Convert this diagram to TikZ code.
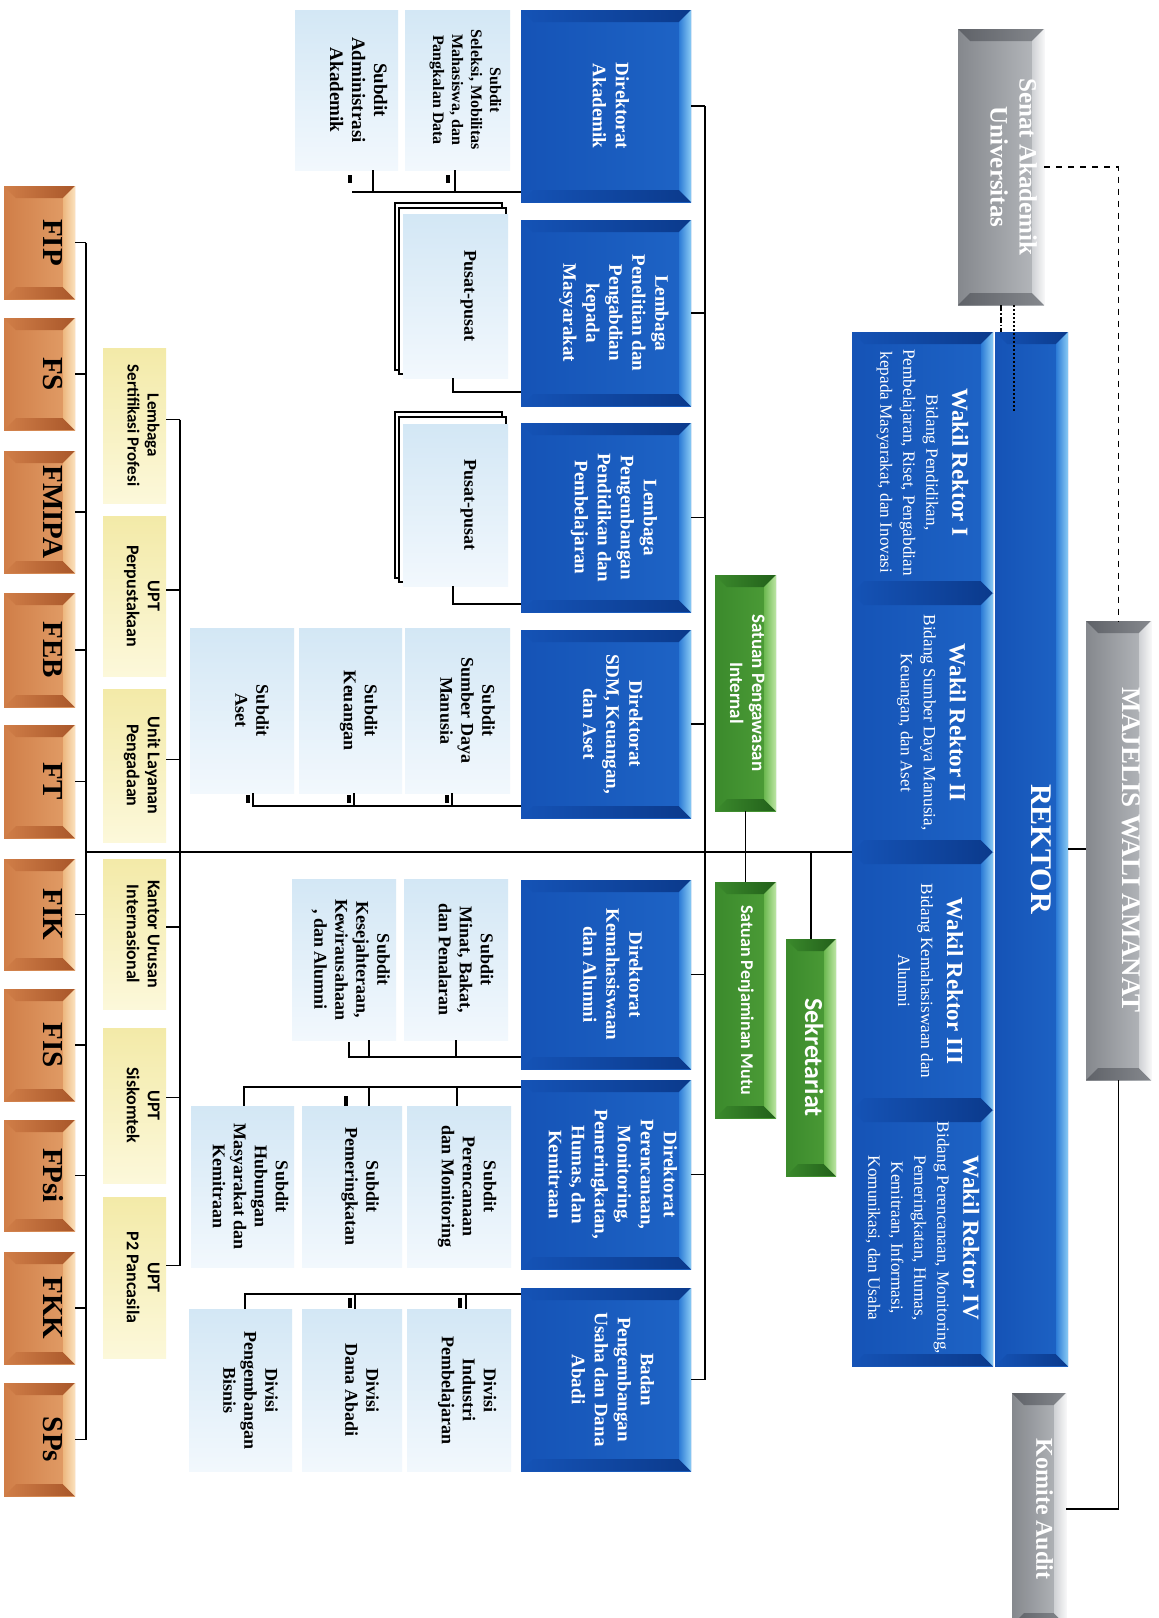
\documentclass[tikz,border=0pt]{standalone}
\usepackage{fontspec}
\setmainfont{Liberation Serif}
\newfontfamily\carl{Carlito}
\usepackage{graphicx}
\newlength\px
\setlength\px{0.5pt}
\newcommand\rtx[1]{\rotatebox{-90}{\begin{tabular}{@{}c@{}}#1\end{tabular}}}
\newcommand\shf[2]{\hspace*{#1\px}\rtx{#2}}
\newcommand\wrtext[2]{\rotatebox{-90}{\parbox{126pt}{\centering\fontsize{11.5}{13}\selectfont\bfseries #1\par\vspace{1.5pt}\fontsize{8.6}{11.5}\selectfont\mdseries #2\par}}}
\newcommand\bxn[7]{\node[#2,minimum width={(#5-#3)*0.5pt},minimum height={(#6-#4)*0.5pt}] (#1) at ({(#3+#5)/2},{(#4+#6)/2}) {#7};}
\newcommand\dropline[3]{\coordinate (tmpd) at (#1,#2); \draw[conn] (tmpd) -- (tmpd |- #3);}
\newcommand\tickmark[3]{\draw[tickline] (#1,#2) -- (#1,#3);}

\definecolor{cBlue}{HTML}{1553B6}
\definecolor{cBlueR}{HTML}{1E64C6}
\definecolor{cBlueD}{HTML}{0B3A8C}
\definecolor{cBlueL1}{HTML}{2C7BD6}
\definecolor{cBlueL2}{HTML}{8ACBF5}
\definecolor{cGray}{HTML}{85888D}
\definecolor{cGrayR}{HTML}{B9BCC0}
\definecolor{cGrayD}{HTML}{5F6268}
\definecolor{cGrayL1}{HTML}{CFD1D4}
\definecolor{cGrayL2}{HTML}{F6F6F7}
\definecolor{cGreen}{HTML}{3B8A2C}
\definecolor{cGreenR}{HTML}{4E9E38}
\definecolor{cGreenD}{HTML}{22601A}
\definecolor{cGreenL1}{HTML}{6CB850}
\definecolor{cGreenL2}{HTML}{BDE6A4}
\definecolor{cOr}{HTML}{D07E48}
\definecolor{cOrR}{HTML}{E3A06A}
\definecolor{cOrD}{HTML}{A9572A}
\definecolor{cOrL1}{HTML}{EDB77F}
\definecolor{cOrL2}{HTML}{FBE2BE}
\definecolor{cSubT}{HTML}{D3E7F5}
\definecolor{cSubB}{HTML}{F2F8FD}
\definecolor{cUpT}{HTML}{F3EAA8}
\definecolor{cUpB}{HTML}{FCF8DA}

\tikzset{
 conn/.style={line width=0.9pt, black},
 tickline/.style={line width=1.8pt, black},
 boxbase/.style={rectangle, inner sep=0pt, outer sep=0pt, draw=none},
 bev/.style n args={6}{left color=#1, right color=#6, path picture={
   \shade[left color=#2, right color=#3] (path picture bounding box.north west) -- (path picture bounding box.north east) -- ([shift={(-6pt,-6pt)}]path picture bounding box.north east) -- ([shift={(6pt,-6pt)}]path picture bounding box.north west) -- cycle;
   \shade[left color=#2, right color=#3] (path picture bounding box.south west) -- (path picture bounding box.south east) -- ([shift={(-6pt,6pt)}]path picture bounding box.south east) -- ([shift={(6pt,6pt)}]path picture bounding box.south west) -- cycle;
   \shade[left color=#4, right color=#5] (path picture bounding box.north east) -- (path picture bounding box.south east) -- ([shift={(-6pt,6pt)}]path picture bounding box.south east) -- ([shift={(-6pt,-6pt)}]path picture bounding box.north east) -- cycle;
 }},
 bluebox/.style={boxbase, bev={cBlue}{cBlue}{cBlueD}{cBlueL1}{cBlueL2}{cBlueR}, text=white, font=\fontsize{9.5}{11.5}\selectfont\bfseries},
 graybox/.style={boxbase, bev={cGray}{cGrayD}{cGray}{cGrayL1}{cGrayL2}{cGrayR}, text=white},
 greenbox/.style={boxbase, bev={cGreen}{cGreen}{cGreenD}{cGreenL1}{cGreenL2}{cGreenR}, text=white, font=\carl\fontsize{9.5}{11}\selectfont\bfseries},
 facbox/.style={boxbase, bev={cOr}{cOr}{cOrD}{cOrL1}{cOrL2}{cOrR}, text=black, font=\fontsize{14.5}{16}\selectfont\bfseries},
 subbox/.style={boxbase, top color=cSubT, bottom color=cSubB, text=black, font=\fontsize{9}{10.5}\selectfont\bfseries},
 uptbox/.style={boxbase, top color=cUpT, bottom color=cUpB, text=black, font=\carl\fontsize{9}{10.5}\selectfont\bfseries},
 layer/.style={line width=0.8pt, draw=black, fill=white}
}

\begin{document}
\begin{tikzpicture}[x=0.5pt,y=-0.5pt]
\useasboundingbox (0,0) rectangle (1159,1618);
\fill[white] (0,0) rectangle (1159,1618);

% ---------- top governance ----------
\bxn{senat}{graybox,font=\fontsize{12.5}{14.5}\selectfont\bfseries}{958}{29}{1044}{305}{\shf{20}{Senat Akademik\\Universitas}}
\bxn{majelis}{graybox,font=\fontsize{13.5}{15}\selectfont\bfseries}{1086}{621}{1151}{1080}{\shf{20}{MAJELIS WALI AMANAT}}
\bxn{komite}{graybox,font=\fontsize{12}{14}\selectfont\bfseries}{1012}{1393}{1066}{1625}{\shf{6}{Komite Audit}}

\bxn{rektor}{bluebox,font=\fontsize{15}{17}\selectfont\bfseries}{995}{332}{1068}{1366}{\shf{14}{REKTOR}}
\bxn{wr1}{bluebox}{852}{332}{993}{593}{\wrtext{Wakil Rektor I}{Bidang Pendidikan,\\Pembelajaran, Riset, Pengabdian\\kepada Masyarakat, dan Inovasi}}
\bxn{wr2}{bluebox}{852}{593}{993}{852}{\hspace*{18\px}\wrtext{Wakil Rektor II}{Bidang Sumber Daya Manusia,\\Keuangan, dan Aset}}
\bxn{wr3}{bluebox}{852}{852}{993}{1110}{\hspace*{16\px}\wrtext{Wakil Rektor III}{Bidang Kemahasiswaan dan\\Alumni}}
\bxn{wr4}{bluebox}{852}{1110}{993}{1366}{\wrtext{Wakil Rektor IV}{Bidang Perencanaan, Monitoring,\\Pemeringkatan, Humas,\\Kemitraan, Informasi,\\Komunikasi, dan Usaha}}

% ---------- green units ----------
\bxn{spi}{greenbox}{715}{575}{776}{811}{\rtx{Satuan Pengawasan\\Internal}}
\bxn{spm}{greenbox,font=\carl\fontsize{9}{11}\selectfont\bfseries}{715}{882}{776}{1118}{\rtx{Satuan Penjaminan Mutu}}
\bxn{sekr}{greenbox,font=\carl\fontsize{13}{15}\selectfont\bfseries}{786}{939}{836}{1176}{\rtx{Sekretariat}}

% ---------- directorates ----------
\bxn{dirak}{bluebox}{521}{10}{691}{202}{\shf{6}{Direktorat\\Akademik}}
\bxn{lppm}{bluebox}{521}{220}{691}{406}{\shf{16}{Lembaga\\Penelitian dan\\Pengabdian\\kepada\\Masyarakat}}
\bxn{lppp}{bluebox}{521}{423}{691}{612}{\shf{16}{Lembaga\\Pengembangan\\Pendidikan dan\\Pembelajaran}}
\bxn{dirsdm}{bluebox}{521}{630}{691}{818}{\shf{10}{Direktorat\\SDM, Keuangan,\\dan Aset}}
\bxn{dirkem}{bluebox}{521}{880}{691}{1069}{\shf{10}{Direktorat\\Kemahasiswaan\\dan Alumni}}
\bxn{dirpr}{bluebox}{521}{1080}{691}{1269}{\shf{10}{Direktorat\\Perencanaan,\\Monitoring,\\Pemeringkatan,\\Humas, dan\\Kemitraan}}
\bxn{badan}{bluebox}{521}{1288}{691}{1471}{\shf{10}{Badan\\Pengembangan\\Usaha dan Dana\\Abadi}}

% ---------- subdits ----------
\bxn{sa1}{subbox,font=\fontsize{8}{9.5}\selectfont\bfseries}{405}{10}{510}{170}{\shf{16}{Subdit\\Seleksi, Mobilitas\\Mahasiswa, dan\\Pangkalan Data}}
\bxn{sa2}{subbox,font=\fontsize{9.5}{11}\selectfont\bfseries}{295}{10}{398}{170}{\shf{20}{Subdit\\Administrasi\\Akademik}}

\draw[layer] (395,203) rectangle (502,370);
\draw[layer] (399,208) rectangle (506,374);
\bxn{pus1}{subbox}{403}{214}{508}{378}{\shf{26}{Pusat-pusat}}
\draw[layer] (395,412) rectangle (502,578);
\draw[layer] (399,417) rectangle (506,582);
\bxn{pus2}{subbox}{403}{424}{508}{586}{\shf{26}{Pusat-pusat}}

\bxn{ss1}{subbox}{405}{628}{510}{793}{\shf{16}{Subdit\\Sumber Daya\\Manusia}}
\bxn{ss2}{subbox}{299}{628}{402}{793}{\shf{16}{Subdit\\Keuangan}}
\bxn{ss3}{subbox}{190}{628}{294}{793}{\shf{16}{Subdit\\Aset}}

\bxn{sk1}{subbox}{404}{879}{508}{1040}{\shf{16}{Subdit\\Minat, Bakat,\\dan Penalaran}}
\bxn{sk2}{subbox}{292}{879}{396}{1040}{\shf{12}{Subdit\\Kesejahteraan,\\Kewirausahaan\\, dan Alumni}}

\bxn{sp1}{subbox}{407}{1106}{511}{1267}{\shf{16}{Subdit\\Perencanaan\\dan Monitoring}}
\bxn{sp2}{subbox}{302}{1106}{402}{1267}{\shf{16}{Subdit\\Pemeringkatan}}
\bxn{sp3}{subbox}{191}{1106}{294}{1267}{\shf{12}{Subdit\\Hubungan\\Masyarakat dan\\Kemitraan}}

\bxn{dv1}{subbox}{407}{1309}{511}{1471}{\shf{16}{Divisi\\Industri\\Pembelajaran}}
\bxn{dv2}{subbox}{302}{1309}{402}{1471}{\shf{16}{Divisi\\Dana Abadi}}
\bxn{dv3}{subbox}{189}{1309}{292}{1471}{\shf{16}{Divisi\\Pengembangan\\Bisnis}}

% ---------- UPT column ----------
\bxn{u1}{uptbox,font=\carl\fontsize{8.5}{10}\selectfont\bfseries}{103}{348}{166}{503}{\shf{14}{Lembaga\\Sertifikasi Profesi}}
\bxn{u2}{uptbox}{103}{516}{166}{676}{\shf{14}{UPT\\Perpustakaan}}
\bxn{u3}{uptbox}{103}{689}{166}{842}{\shf{14}{Unit Layanan\\Pengadaan}}
\bxn{u4}{uptbox}{103}{859}{166}{1009}{\shf{14}{Kantor Urusan\\Internasional}}
\bxn{u5}{uptbox}{103}{1028}{166}{1183}{\shf{14}{UPT\\Siskomtek}}
\bxn{u6}{uptbox}{103}{1197}{166}{1358}{\shf{14}{UPT\\P2 Pancasila}}

% ---------- faculties ----------
\foreach \n/\a/\b/\t in {fip/186/299/FIP, fs/318/430/FS, fmipa/451/573/FMIPA, feb/593/707/FEB, ft/725/838/FT, fik/859/970/FIK, fis/989/1101/FIS, fpsi/1120/1231/FPsi, fkk/1252/1364/FKK, sps/1383/1496/SPs}{
  \bxn{\n}{facbox}{4}{\a}{75}{\b}{\shf{20}{\t}}
}

% ---------- connectors ----------
\coordinate (spine) at (705,0);
\coordinate (facl) at (86,0);
\coordinate (uptl) at (180,0);
\coordinate (hl) at (0,852);

% main horizontal
\draw[conn] (hl -| facl) -- (wr2.south west);
% spine
\draw[conn] (dirak.east -| spine) -- (badan.east -| spine);
\foreach \n in {dirak,lppm,lppp,dirsdm,dirkem,dirpr,badan}{
  \draw[conn] (\n.east) -- (\n.east -| spine);
}
% governance
\draw[conn] (rektor.east) -- (rektor.east -| majelis.west);
\draw[conn] (majelis.south) |- (komite.east);
\draw[line width=0.9pt, dashed] (senat.east) -| (majelis.north);
\draw[line width=0.8pt, densely dashdotted] (senat.south) -- (senat.south |- rektor.north);
\draw[line width=1pt, densely dotted] ([xshift=6.5pt]senat.south) -- ++(0,107);
% green units
\draw[conn] (spi.south) -- (spm.north);
\draw[conn] (sekr.north) -- (sekr.north |- hl);
% faculties
\draw[conn] (fip.east -| facl) -- (sps.east -| facl);
\foreach \n in {fip,fs,fmipa,feb,ft,fik,fis,fpsi,fkk,sps}{
  \draw[conn] (\n.east) -- (\n.east -| facl);
}
% UPT column
\foreach \n/\s in {u1/3,u2/3,u3/3,u4/3.5,u5/4,u6/6}{
  \coordinate (\n-s) at ([yshift=\s pt]\n.east);
  \draw[conn] (\n-s) -- (\n-s -| uptl);
}
\draw[conn] (u1-s -| uptl) -- (u6-s -| uptl);

% Direktorat Akademik
\coordinate (ba) at (352,192);
\draw[conn] (dirak.west |- ba) -- (ba);
\dropline{455}{192}{sa1.south}
\dropline{373}{192}{sa2.south}
\tickmark{350}{175}{183}
\tickmark{448}{175}{183}
% LPPM / LPPP
\coordinate (bp1) at (453,392);
\draw[conn] (lppm.west |- bp1) -- (bp1) -- (bp1 |- pus1.south);
\coordinate (bp2) at (453,604);
\draw[conn] (lppp.west |- bp2) -- (bp2) -- (bp2 |- pus2.south);
% SDM
\coordinate (bs) at (253,806);
\draw[conn] (dirsdm.west |- bs) -- (bs) -- (bs |- ss3.south);
\dropline{452}{806}{ss1.south}
\dropline{354}{806}{ss2.south}
\tickmark{248}{795}{803}
\tickmark{349}{795}{803}
\tickmark{447}{795}{803}
% Kemahasiswaan
\coordinate (bk) at (349,1057);
\draw[conn] (dirkem.west |- bk) -- (bk) -- +(0,-15);
\dropline{456}{1057}{sk1.south}
\dropline{369}{1057}{sk2.south}
% Perencanaan
\coordinate (bq) at (244,1087);
\draw[conn] (dirpr.west |- bq) -- (bq) -- (bq |- sp3.north);
\dropline{457}{1087}{sp1.north}
\dropline{369}{1087}{sp2.north}
\tickmark{346}{1096}{1106}
% Badan
\coordinate (bb) at (245,1294);
\draw[conn] (badan.west |- bb) -- (bb) -- (bb |- dv3.north);
\dropline{466}{1294}{dv1.north}
\dropline{355}{1294}{dv2.north}
\tickmark{460}{1298}{1308}
\tickmark{350}{1298}{1308}
\end{tikzpicture}
\end{document}
